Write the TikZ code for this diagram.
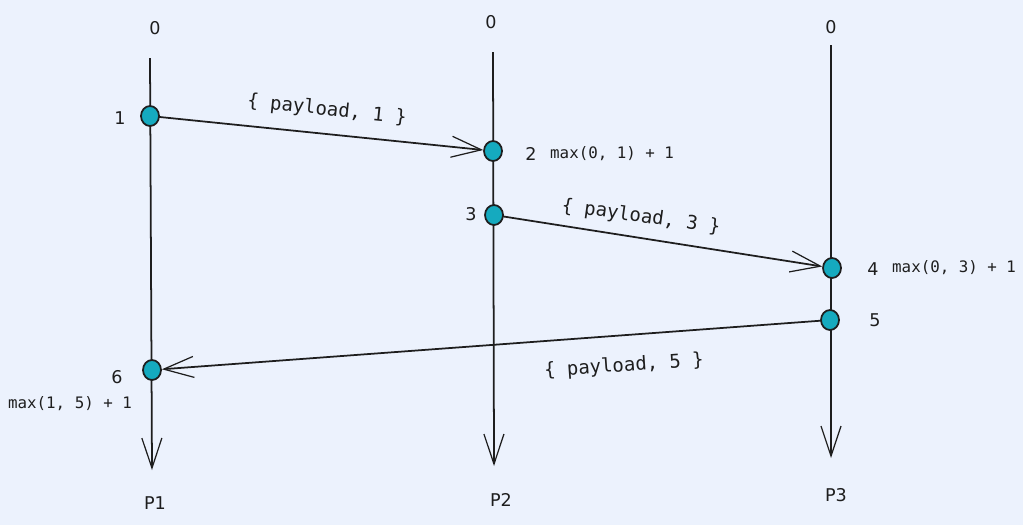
\documentclass[tikz,border=0pt]{standalone}
\usepackage{fontspec}
\setmainfont{DejaVu Sans}
\newfontfamily\codefont{DejaVu Sans Mono}
\usetikzlibrary{arrows.meta,backgrounds,shapes.geometric}
\definecolor{bg}{RGB}{236,242,253}
\definecolor{dotc}{RGB}{21,170,191}
\definecolor{ink}{RGB}{30,30,30}
\begin{document}
\begin{tikzpicture}[x=0.02cm,y=-0.02cm,
  evt/.style={ellipse,draw=ink,fill=dotc,line width=1pt,minimum width=0.36cm,minimum height=0.4cm,inner sep=0pt},
  tl/.style={line width=1pt,draw=ink,-{Straight Barb[length=0.6cm,width=0.4cm,line width=0.7pt]}},
  msg/.style={line width=1pt,draw=ink,-{Straight Barb[length=0.6cm,width=0.42cm,line width=0.7pt]}},
  hand/.style={text=ink,font=\fontsize{10}{12}\selectfont},
  code/.style={text=ink,font=\codefont\fontsize{9}{10}\selectfont},
  pay/.style={text=ink,font=\codefont\fontsize{10.8}{12}\selectfont}]
\useasboundingbox (0,0) rectangle (1023,525);
% events
\node[evt] (e1) at (150,116) {};
\node[evt] (e2) at (493,151) {};
\node[evt] (e3) at (494,215) {};
\node[evt] (e4) at (832,268) {};
\node[evt] (e5) at (830,320) {};
\node[evt] (e6) at (152,370) {};
% timeline endpoints
\coordinate (p1top) at (150,58);
\coordinate (p1bot) at (152,470);
\coordinate (p2top) at (493,52);
\coordinate (p2bot) at (494,466);
\coordinate (p3top) at (831,45);
\coordinate (p3bot) at (831,458);
\begin{scope}[on background layer]
\fill[bg] (0,0) rectangle (1023,525);
\draw[tl] (p1top) -- (p1bot);
\draw[tl] (p2top) -- (p2bot);
\draw[tl] (p3top) -- (p3bot);
\draw[msg] (e1.center) -- (e2);
\draw[msg] (e3.center) -- (e4);
\draw[msg] (e5.center) -- (e6);
\end{scope}
% top / bottom labels
\node[hand] (z1) at (155,28) {0};
\node[hand] (z2) at (491,22) {0};
\node[hand] (z3) at (831,27) {0};
\node[hand] (n1) at (155,503) {P1};
\node[hand] (n2) at (501,500) {P2};
\node[hand] (n3) at (836,495) {P3};
% event labels
\node[hand] (l1) at (120,118) {1};
\node[hand] (l2) at (531,154) {2};
\node[code,anchor=west] (c2) at (544,154) {max(0, 1) + 1};
\node[hand] (l3) at (471,214) {3};
\node[hand] (l4) at (873,269) {4};
\node[code,anchor=west] (c4) at (886,268) {max(0, 3) + 1};
\node[hand] (l5) at (875,320) {5};
\node[hand] (l6) at (117,377) {6};
\node[code] (c6) at (70,404) {max(1, 5) + 1};
% message labels
\node[pay,rotate=-6] (m1) at (327,110) {\{ payload, 1 \}};
\node[pay,rotate=-8] (m3) at (641,217) {\{ payload, 3 \}};
\node[pay,rotate=4] (m5) at (624,366) {\{ payload, 5 \}};
\end{tikzpicture}
\end{document}
